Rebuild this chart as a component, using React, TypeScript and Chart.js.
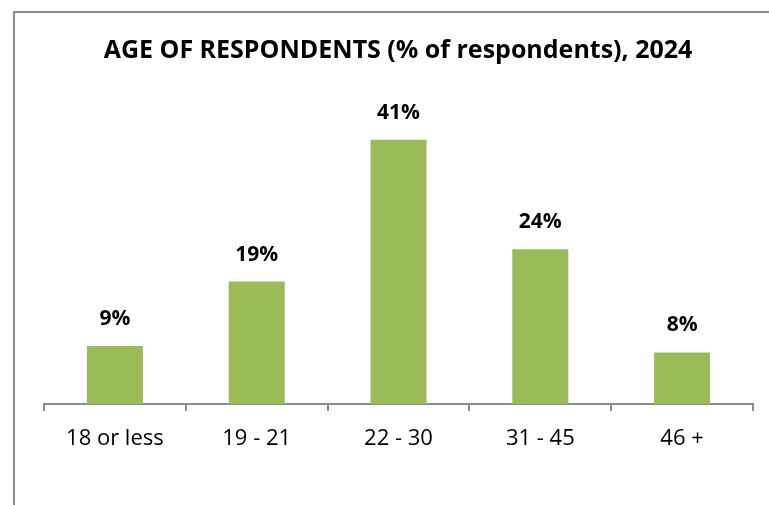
import React, { useEffect, useRef } from "react";
import { Chart, registerables } from "chart.js";

Chart.register(...registerables);

const categories = ["18 or less", "19 - 21", "22 - 30", "31 - 45", "46 +"];
const values = [9, 19, 41, 24, 8];
const titleText = "AGE OF RESPONDENTS (% of respondents), 2024";
const FONT = "'Open Sans', sans-serif";

export default function App() {
  const ref = useRef<HTMLCanvasElement | null>(null);
  useEffect(() => {
    const ctx = ref.current!.getContext("2d")!;
    const overlay = {
      id: "overlay",
      afterDatasetsDraw(chart: any) {
        const c = chart.ctx;
        c.save();
        c.fillStyle = "#000";
        c.textAlign = "center";
        c.textBaseline = "middle";
        c.font = `bold 25px ${FONT}`;
        c.fillText(titleText, 398, 51);
        c.font = `bold 21px ${FONT}`;
        const meta = chart.getDatasetMeta(0);
        meta.data.forEach((bar: any, i: number) => {
          c.fillText(values[i] + "%", bar.x, bar.y - 27);
        });
        c.restore();
      },
    };
    const chart = new Chart(ctx, {
      type: "bar",
      data: {
        labels: categories,
        datasets: [
          {
            data: values,
            backgroundColor: "#9BBB59",
            categoryPercentage: 1,
            barPercentage: 0.395,
          },
        ],
      },
      options: {
        animation: false,
        responsive: false,
        layout: { padding: { left: 44, right: 16, top: 114, bottom: 0 } },
        plugins: { legend: { display: false }, tooltip: { enabled: false }, title: { display: false } },
        scales: {
          x: {
            offset: true,
            grid: {
              offset: true,
              drawOnChartArea: false,
              drawTicks: true,
              tickLength: 7,
              color: "#8c8c8c",
              lineWidth: 2,
            },
            border: { display: true, color: "#8c8c8c", width: 2 },
            ticks: { color: "#000", font: { family: FONT, size: 22 }, padding: 15 },
            afterFit: (s: any) => {
              s.height = 101;
            },
          },
          y: { display: false, min: 0, max: 45 },
        },
      },
      plugins: [overlay],
    });
    return () => chart.destroy();
  }, []);
  return (
    <div style={{ position: "fixed", left: 0, top: 0, width: 769, height: 505, background: "#fff" }}>
      <div
        style={{
          position: "absolute",
          left: 13,
          top: 11,
          width: 756,
          height: 494,
          borderLeft: "2px solid #8c8c8c",
          borderTop: "2px solid #8c8c8c",
        }}
      />
      <canvas ref={ref} width={769} height={505} style={{ position: "absolute", left: 0, top: 0 }} />
    </div>
  );
}
